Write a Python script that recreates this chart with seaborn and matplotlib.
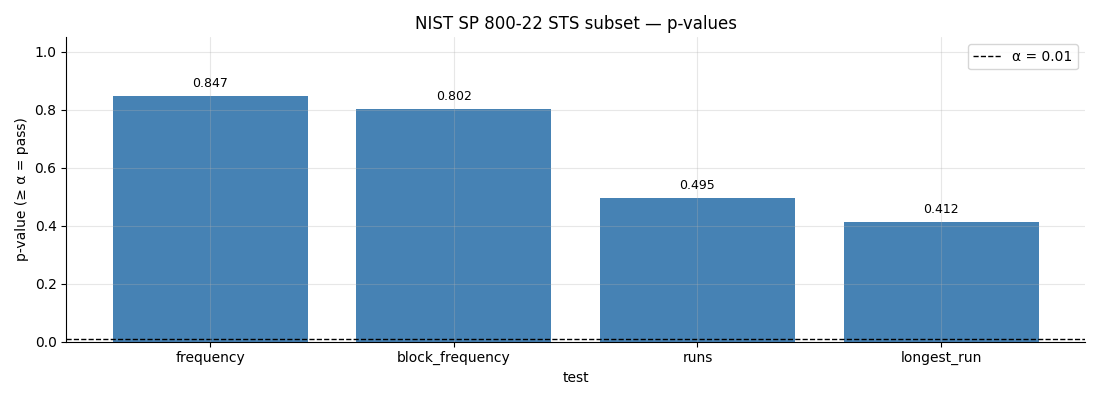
import matplotlib
matplotlib.use("Agg")
import matplotlib.pyplot as plt
import seaborn as sns
import pandas as pd

tests = ["frequency", "block_frequency", "runs", "longest_run"]
p_values = [0.847, 0.802, 0.495, 0.412]
alpha = 0.01

df = pd.DataFrame({"test": tests, "p_value": p_values})

sns.set_style("ticks", {"text.color": "black", "axes.labelcolor": "black",
                        "xtick.color": "black", "ytick.color": "black",
                        "axes.edgecolor": "black"})
plt.rcParams['font.family'] = ['DejaVu Sans']

fig, ax = plt.subplots(figsize=(11, 4), dpi=100)
sns.barplot(data=df, x="test", y="p_value", color="steelblue", saturation=1,
            width=0.8, linewidth=0, ax=ax)

# value labels above each bar
for i, v in enumerate(p_values):
    ax.text(i, v + 0.02, f"{v:.3f}", ha="center", va="bottom", fontsize=9)

ax.axhline(alpha, color="black", linestyle="--", linewidth=1, label=f"α = {alpha}")
ax.set_ylim(0, 1.05)
ax.set_xlim(-0.59, len(tests) - 0.41)
ax.grid(True, color="#b0b0b0", alpha=0.3)
ax.set_axisbelow(False)
sns.despine(ax=ax)
ax.set_title("NIST SP 800-22 STS subset — p-values", fontsize=12)
ax.set_xlabel("test")
ax.set_ylabel("p-value (≥ α = pass)")
ax.legend(loc="upper right")

plt.tight_layout()
plt.savefig("out.png")
plt.close(fig)
